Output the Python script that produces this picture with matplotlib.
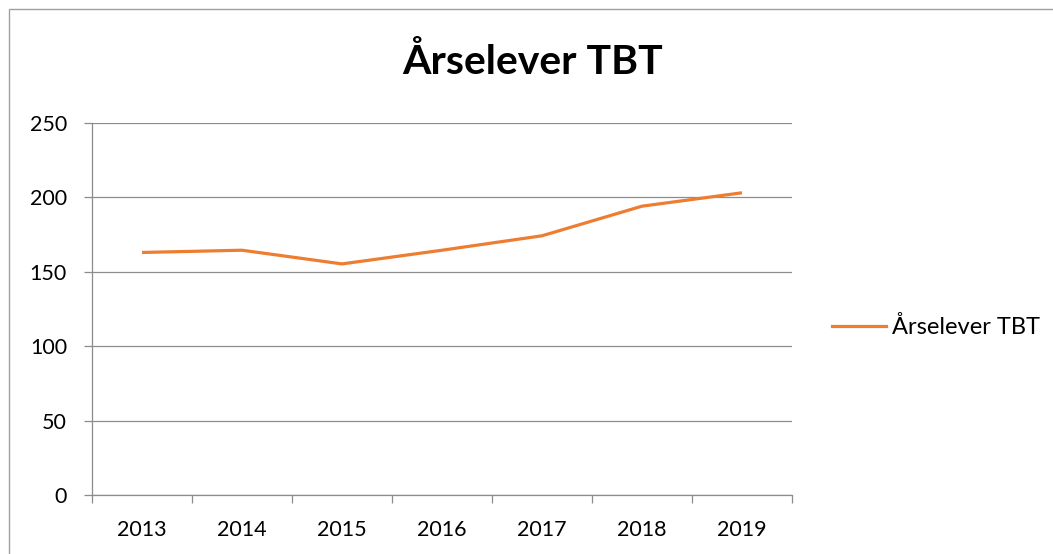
import matplotlib
matplotlib.use("Agg")
import matplotlib.pyplot as plt
from matplotlib.lines import Line2D
import numpy as np

years = ["2013", "2014", "2015", "2016", "2017", "2018", "2019"]
values = [163, 164.5, 155.3, 164.5, 174.2, 194.1, 203.1]
series_name = "Årselever TBT"
title = "Årselever TBT"
yticks = [0, 50, 100, 150, 200, 250]

plt.rcParams['font.family'] = ['Lato', 'DejaVu Sans']

fig = plt.figure(figsize=(10.53, 5.54), dpi=100)
# outer chart border
fig.patches.append(plt.Rectangle((9/1053, -0.1), 1.2, (554-9)/554 + 0.1, transform=fig.transFigure,
                                 fill=False, edgecolor="#a0a0a0", linewidth=1.0))

ax = fig.add_axes([92/1053, 1-495/554, (792-92)/1053, (495-123)/554])
x = np.arange(len(years))
ax.plot(x, values, color="#ED7D31", linewidth=2.3, solid_capstyle="butt", zorder=3)

ax.set_xlim(-0.5, len(years)-0.5)
ax.set_ylim(0, 250)
ax.set_yticks(yticks)
ax.set_yticklabels([str(v) for v in yticks], fontsize=15.5)
ax.grid(axis="y", color="#8c8c8c", linewidth=0.9)
ax.set_axisbelow(True)

ax.set_xticks(x)
ax.set_xticklabels(years, fontsize=15.5)
ax.set_xticks(np.arange(-0.5, len(years), 1.0), minor=True)
ax.tick_params(axis="x", which="major", length=0, pad=18)
ax.tick_params(axis="x", which="minor", length=6, color="#8c8c8c", width=0.9)
ax.tick_params(axis="y", length=6, color="#8c8c8c", width=0.9, pad=12)

for s in ["top", "right"]:
    ax.spines[s].set_visible(False)
for s in ["left", "bottom"]:
    ax.spines[s].set_color("#8c8c8c")
    ax.spines[s].set_linewidth(0.9)

fig.text(533/1053, 1-62/554, title, ha="center", va="center", fontsize=29.5, fontweight="bold")

handle = Line2D([0], [0], color="#ED7D31", linewidth=2.3)
fig.legend([handle], [series_name], loc="center left", bbox_to_anchor=(832/1053, 1-327/554),
           frameon=False, fontsize=17, handlelength=2.3, handletextpad=0.25,
           borderaxespad=0, borderpad=0)

fig.savefig("out.png", dpi=100)
